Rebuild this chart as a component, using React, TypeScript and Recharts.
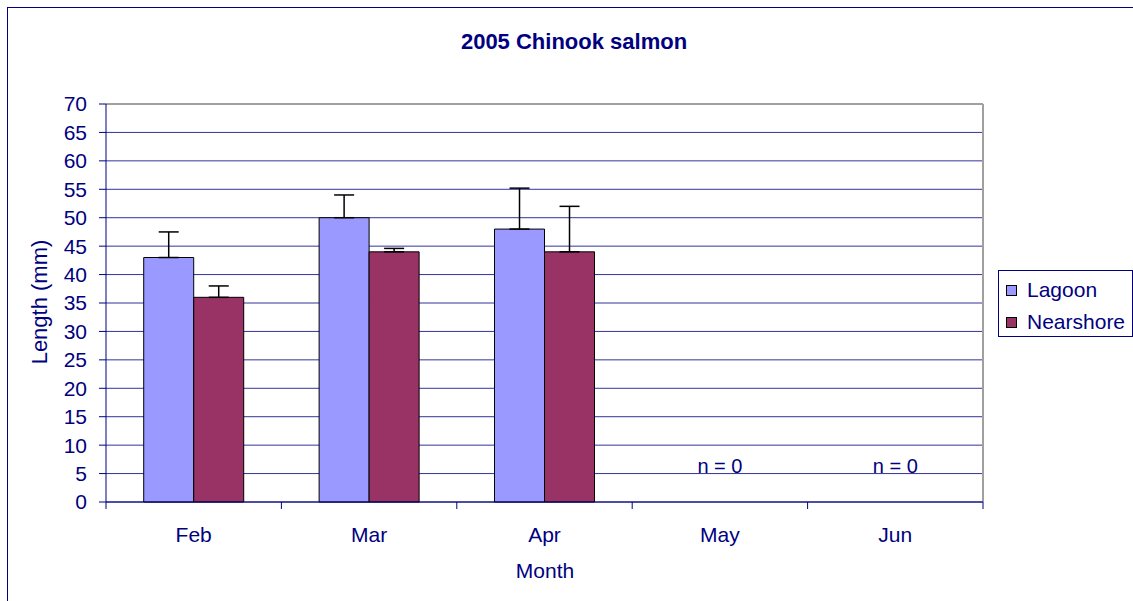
import React from "react";
import {
  BarChart,
  Bar,
  XAxis,
  YAxis,
  CartesianGrid,
  ErrorBar,
  ReferenceLine,
  ReferenceDot,
} from "recharts";

const months = ["Feb", "Mar", "Apr", "May", "Jun"];
const lagoon = [43, 50, 48, 0, 0];
const nearshore = [36, 44, 44, 0, 0];
const lagoonErr = [4.5, 4, 7.2, 0, 0];
const nearshoreErr = [2, 0.6, 8, 0, 0];
const notes = ["", "", "", "n = 0", "n = 0"];
const noteLevel = 6.3;
const yTicks = [0, 5, 10, 15, 20, 25, 30, 35, 40, 45, 50, 55, 60, 65, 70];
const boundaryTicks = [0, 1, 2, 3, 4, 5];
const seriesNames = ["Lagoon", "Nearshore"];
const seriesColors = ["#9999FF", "#993366"];

const data = months.map((m, i) => ({
  month: m,
  slot: i + 0.5,
  Lagoon: lagoon[i],
  Nearshore: nearshore[i],
  lagoonErr: [0, lagoonErr[i]],
  nearshoreErr: [0, nearshoreErr[i]],
}));

const NAVY = "#000080";
const FONT = "'Liberation Sans', Arial, sans-serif";
const CAT = 1;

const EmptyTick = () => <g />;

export default function App() {
  return (
    <div
      style={{
        position: "absolute",
        left: 0,
        top: 0,
        width: 1133,
        height: 601,
        overflow: "hidden",
        background: "#fff",
        fontFamily: FONT,
      }}
    >
      <div
        style={{
          position: "absolute",
          left: 7,
          top: 7,
          width: 1200,
          height: 700,
          border: "1px solid " + NAVY,
        }}
      />
      <div style={{ position: "absolute", left: 0, top: 0 }}>
        <BarChart
          width={1133}
          height={601}
          data={data}
          margin={{ top: 104, right: 150, bottom: 38, left: 0 }}
          barCategoryGap="21.5%"
          barGap={0}
        >
          <CartesianGrid
            horizontal={true}
            vertical={false}
            stroke="#333399"
            strokeWidth={1}
          />
          <XAxis
            xAxisId={0}
            dataKey="slot"
            type="number"
            domain={[0, 5]}
            ticks={boundaryTicks}
            tick={EmptyTick}
            tickLine={{ stroke: NAVY }}
            tickSize={7}
            axisLine={{ stroke: NAVY }}
            height={1}
            allowDataOverflow
          />
          <XAxis
            xAxisId={CAT}
            dataKey="month"
            tickLine={false}
            axisLine={false}
            tickSize={0}
            tickMargin={24}
            height={60}
            interval={0}
            tick={{ fill: NAVY, fontSize: 21, fontFamily: FONT }}
          />
          <YAxis
            width={106}
            domain={[0, 70]}
            ticks={yTicks}
            interval={0}
            tickSize={7}
            tickMargin={12}
            axisLine={{ stroke: NAVY }}
            tickLine={{ stroke: NAVY }}
            tick={{ fill: NAVY, fontSize: 21, fontFamily: FONT }}
          />
          <ReferenceLine y={70} stroke="#a0a0a0" strokeWidth={2} />
          <ReferenceLine x={5} stroke="#a0a0a0" strokeWidth={2} />
          <Bar
            xAxisId={CAT}
            dataKey="Lagoon"
            fill={seriesColors[0]}
            stroke="#000"
            strokeWidth={1}
            isAnimationActive={false}
          >
            <ErrorBar
              dataKey="lagoonErr"
              width={10}
              stroke="#000"
              strokeWidth={1.5}
              isAnimationActive={false}
            />
          </Bar>
          <Bar
            xAxisId={CAT}
            dataKey="Nearshore"
            fill={seriesColors[1]}
            stroke="#000"
            strokeWidth={1}
            isAnimationActive={false}
          >
            <ErrorBar
              dataKey="nearshoreErr"
              width={10}
              stroke="#000"
              strokeWidth={1.5}
              isAnimationActive={false}
            />
          </Bar>
          {months.map((m, i) =>
            notes[i] ? (
              <ReferenceDot
                key={m}
                xAxisId={CAT}
                x={m}
                y={noteLevel}
                r={0}
                stroke="none"
                fill="none"
                label={{
                  value: notes[i],
                  position: "center",
                  fill: NAVY,
                  fontSize: 20,
                  fontFamily: FONT,
                }}
              />
            ) : null
          )}
        </BarChart>
      </div>
      <svg
        width={1133}
        height={601}
        style={{ position: "absolute", left: 0, top: 0, pointerEvents: "none" }}
      >
        <text
          x={574}
          y={49}
          textAnchor="middle"
          fontFamily={FONT}
          fontSize={22}
          fontWeight="bold"
          fill={NAVY}
        >
          2005 Chinook salmon
        </text>
        <text
          x={545}
          y={578}
          textAnchor="middle"
          fontFamily={FONT}
          fontSize={21}
          fill={NAVY}
        >
          Month
        </text>
        <text
          transform="translate(47,302) rotate(-90)"
          textAnchor="middle"
          fontFamily={FONT}
          fontSize={22}
          fill={NAVY}
        >
          Length (mm)
        </text>
        <rect
          x={998.5}
          y={270.5}
          width={134}
          height={66}
          fill="#fff"
          stroke={NAVY}
          strokeWidth={1}
        />
        {seriesNames.map((name, i) => (
          <g key={name}>
            <rect
              x={1006.5}
              y={285.5 + i * 32}
              width={10}
              height={10}
              fill={seriesColors[i]}
              stroke="#000"
              strokeWidth={1}
            />
            <text
              x={1027}
              y={297 + i * 32}
              fontFamily={FONT}
              fontSize={21}
              fill={NAVY}
            >
              {name}
            </text>
          </g>
        ))}
      </svg>
    </div>
  );
}
